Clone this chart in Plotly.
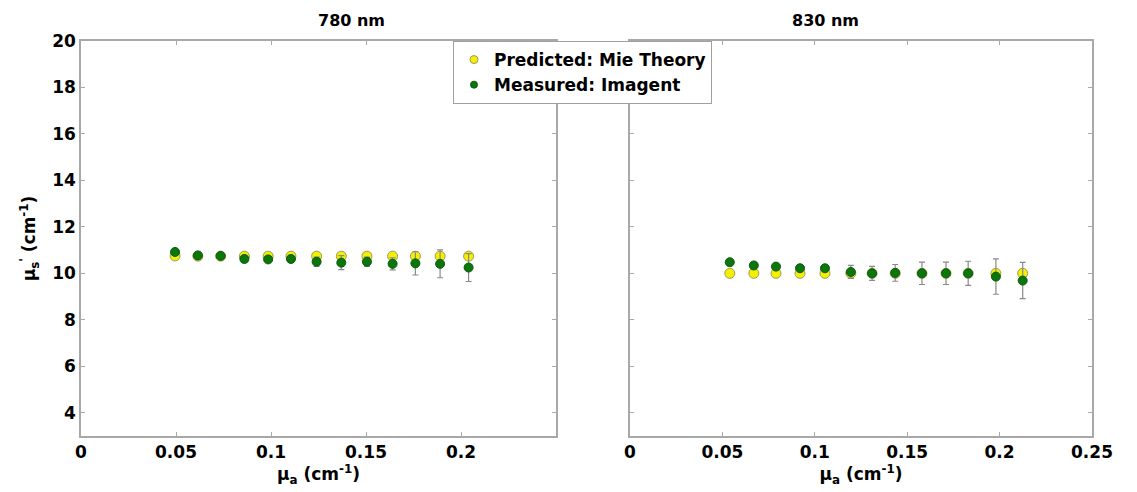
import plotly.graph_objects as go

# ---- data ----
x780 = [0.0495, 0.0615, 0.0735, 0.086, 0.0985, 0.1105, 0.124, 0.137, 0.1505, 0.164, 0.176, 0.189, 0.204]
pred780 = [10.75, 10.74, 10.74, 10.74, 10.74, 10.74, 10.74, 10.74, 10.74, 10.74, 10.74, 10.74, 10.74]
meas780 = [10.92, 10.77, 10.75, 10.62, 10.6, 10.62, 10.5, 10.46, 10.5, 10.41, 10.43, 10.41, 10.25]
err780 = [0.03, 0.04, 0.05, 0.07, 0.08, 0.13, 0.2, 0.3, 0.2, 0.26, 0.5, 0.6, 0.6]

x830 = [0.054, 0.067, 0.079, 0.092, 0.1055, 0.1195, 0.131, 0.1435, 0.158, 0.171, 0.183, 0.198, 0.2125]
pred830 = [10.0, 10.0, 10.0, 10.0, 10.0, 10.0, 10.0, 10.0, 10.0, 10.0, 10.0, 10.0, 10.0]
meas830 = [10.48, 10.34, 10.29, 10.22, 10.22, 10.06, 10.0, 10.02, 10.0, 10.0, 10.0, 9.86, 9.69]
err830 = [0.03, 0.04, 0.06, 0.1, 0.12, 0.28, 0.3, 0.36, 0.48, 0.48, 0.52, 0.76, 0.78]

panel_titles = ["780 nm", "830 nm"]
series_names = ["Predicted: Mie Theory", "Measured: Imagent"]
xticks_left = [0, 0.05, 0.1, 0.15, 0.2]
xticks_right = [0, 0.05, 0.1, 0.15, 0.2, 0.25]
yticks = [4, 6, 8, 10, 12, 14, 16, 18, 20]

FONT = "DejaVu Sans"
YEL = "#f4f000"
GRN = "#0b760b"
AX = "#a8a8a8"

fig = go.Figure()

def add_panel(xs, pred, meas, err, xa, ya):
    fig.add_trace(go.Scatter(
        x=xs, y=pred, mode="markers", name=series_names[0], showlegend=False,
        xaxis=xa, yaxis=ya,
        marker=dict(color=YEL, size=10, line=dict(color="#9a9a60", width=1))))
    fig.add_trace(go.Scatter(
        x=xs, y=meas, mode="markers", name=series_names[1], showlegend=False,
        xaxis=xa, yaxis=ya,
        error_y=dict(type="data", array=err, color="#8a8a8a", thickness=1.2, width=3),
        marker=dict(color=GRN, size=9, line=dict(color="#0a5a0a", width=1))))

add_panel(x780, pred780, meas780, err780, "x", "y")
add_panel(x830, pred830, meas830, err830, "x2", "y2")

# legend-only entries with smaller markers (as in the reference legend)
fig.add_trace(go.Scatter(x=[None], y=[None], mode="markers", name=series_names[0],
                         marker=dict(color=YEL, size=8, line=dict(color="#9a9a60", width=1))))
fig.add_trace(go.Scatter(x=[None], y=[None], mode="markers", name=series_names[1],
                         marker=dict(color=GRN, size=7, line=dict(color="#0a5a0a", width=1))))

axis_common = dict(showline=True, linecolor=AX, linewidth=1.5, mirror="ticks",
                   ticks="inside", ticklen=4, tickcolor=AX, showgrid=False,
                   zeroline=False, automargin=False,
                   tickfont=dict(family=FONT, size=17, color="black", weight="bold"))

xtitle = dict(text="<b>μ<sub>a</sub> (cm<sup>-1</sup>)</b>",
              font=dict(family=FONT, size=17, color="black"), standoff=4)

fig.update_layout(
    width=1137, height=492,
    margin=dict(l=81, r=45, t=41, b=56),
    paper_bgcolor="white", plot_bgcolor="white",
    xaxis=dict(domain=[0, 475/1011], range=[0, 0.25], tickvals=xticks_left,
               ticktext=[str(v) for v in xticks_left], title=xtitle, **axis_common),
    yaxis=dict(domain=[0, 1], range=[3, 20], tickvals=yticks,
               title=dict(text="<b>μ<sub>s</sub><sup>'</sup> (cm<sup>-1</sup>)</b>",
                          font=dict(family=FONT, size=17, color="black"), standoff=12),
               **axis_common),
    xaxis2=dict(domain=[549/1011, 1], range=[0, 0.25], tickvals=xticks_right,
                ticktext=[str(v) for v in xticks_right], anchor="y2", title=xtitle,
                **axis_common),
    yaxis2=dict(domain=[0, 1], range=[3, 20], tickvals=yticks, anchor="x2",
                showticklabels=False, **axis_common),
    legend=dict(x=(453-81)/1011, y=1.0, xanchor="left", yanchor="top",
                bgcolor="white", bordercolor="#a0a0a0", borderwidth=1,
                font=dict(family=FONT, size=17, color="black", weight="bold"),
                tracegroupgap=0, itemwidth=30),
    showlegend=True,
)

for t, xc in zip(panel_titles, [316, 861]):
    fig.add_annotation(text="<b>%s</b>" % t, x=(xc-81)/1011, y=1, xref="paper", yref="paper",
                       yanchor="middle", yshift=21, showarrow=False,
                       font=dict(family=FONT, size=16, color="black"))

fig.write_html("out.html")
